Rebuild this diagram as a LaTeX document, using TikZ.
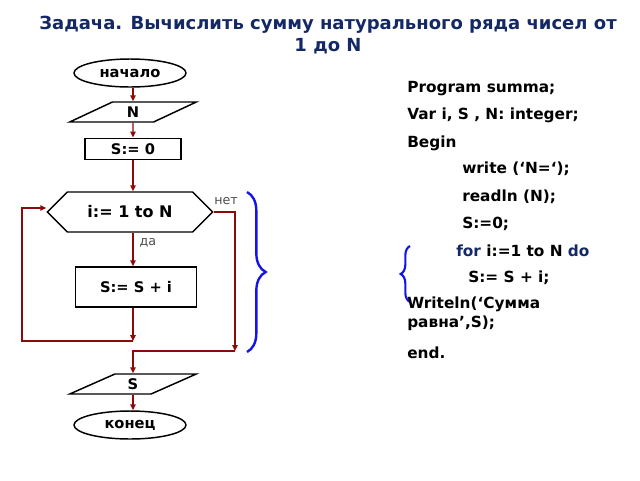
\documentclass[tikz,border=0pt]{standalone}
\usepackage{fontspec}
\setmainfont{DejaVu Sans}
\usetikzlibrary{shapes.geometric,shapes.symbols,arrows.meta,decorations.pathreplacing}
\definecolor{flowred}{RGB}{140,10,10}
\definecolor{titleblue}{RGB}{20,40,100}
\definecolor{bracecol}{RGB}{20,20,230}
\tikzset{
  flow/.style={draw=flowred,line width=1.1pt,-{Triangle[length=4.5pt,width=4pt]}},
  box/.style={draw,line width=1.1pt,font=\bfseries\fontsize{11}{13}\selectfont,inner sep=0pt},
  term/.style={box,ellipse,minimum width=84pt,minimum height=21pt},
  io/.style={box,trapezium,trapezium left angle=40,trapezium right angle=140,
    trapezium stretches=true,minimum width=95pt,minimum height=15pt},
  code/.style={anchor=west,font=\bfseries\fontsize{11.5}{14}\selectfont,inner sep=0pt},
  note/.style={font=\fontsize{9.5}{11}\selectfont,text=black!70,inner sep=0pt}
}
\begin{document}
\begin{tikzpicture}[x=0.75pt,y=-0.75pt]
    \useasboundingbox (0,0) rectangle (640,480);
    % title
    \node[font=\bfseries\fontsize{13.5}{16}\selectfont,text=titleblue,align=center] (title) at (328,35)
      {Задача. Вычислить сумму натурального ряда чисел от\\1 до N};
    % flowchart
    \node[term] (start) at (130,73) {начало};
    \node[io] (inN) at (133,112) {N};
    \node[box,minimum width=72pt,minimum height=16pt] (init) at (133,149) {S:= 0};
    \node[box,signal,signal to=west and east,signal pointer angle=90,
      minimum width=124pt,minimum height=30pt,font=\bfseries\fontsize{12}{14}\selectfont] (loop) at (130,212) {i:= 1 to N};
    \node[box,minimum width=91pt,minimum height=30pt] (body) at (136,287) {S:= S + i};
    \node[io] (outS) at (133,384) {S};
    \node[term] (stop) at (130,425) {конец};
    \node[note] (no) at (226,201) {нет};
    \node[note] (yes) at (148,243) {да};
    \coordinate (back) at (133,341);
    \coordinate (exit) at (235,351);
    \draw[flow] (start.south -| 133,0) -- (inN.north -| 133,0);
    \draw[flow] (inN) -- (init);
    \draw[flow] (init) -- (loop.north -| 133,0);
    \draw[flow] (loop.south -| 133,0) -- (body.north -| 133,0);
    \draw[flow] (body.south -| 133,0) -- (back);
    \draw[flow] (back) -- (22,341) -- (22,208) -- (loop.west |- 0,208);
    \draw[flow] (loop.east) -- (exit |- loop.east) -- (exit);
    \draw[flow] (exit) -- (133,351) -- (outS.north -| 133,0);
    \draw[flow] (outS.south -| 133,0) -- (stop.north -| 133,0);
    % braces
    \draw[bracecol,line width=1.8pt,decorate,decoration={brace,amplitude=14pt}] (247,192) -- (247,352);
    \draw[bracecol,line width=1.6pt,decorate,decoration={brace,amplitude=7pt}] (410,302) -- (410,246);
    % program text
    \node[code] (l1) at (407,89) {Program summa;};
    \node[code] (l2) at (407,115) {Var i, S , N: integer;};
    \node[code] (l3) at (407,143) {Begin};
    \node[code] (l4) at (462,169) {write (‘N=‘);};
    \node[code] (l5) at (462,197) {readln (N);};
    \node[code] (l6) at (462,224) {S:=0;};
    \node[code] (l7) at (456,251) {\textcolor{titleblue}{for} i:=1 to N \textcolor{titleblue}{do}};
    \node[code] (l8) at (468,278) {S:= S + i;};
    \node[code,align=left] (l9) at (407,314) {Writeln(‘Сумма\\равна’,S);};
    \node[code] (l10) at (407,353) {end.};
\end{tikzpicture}
\end{document}
